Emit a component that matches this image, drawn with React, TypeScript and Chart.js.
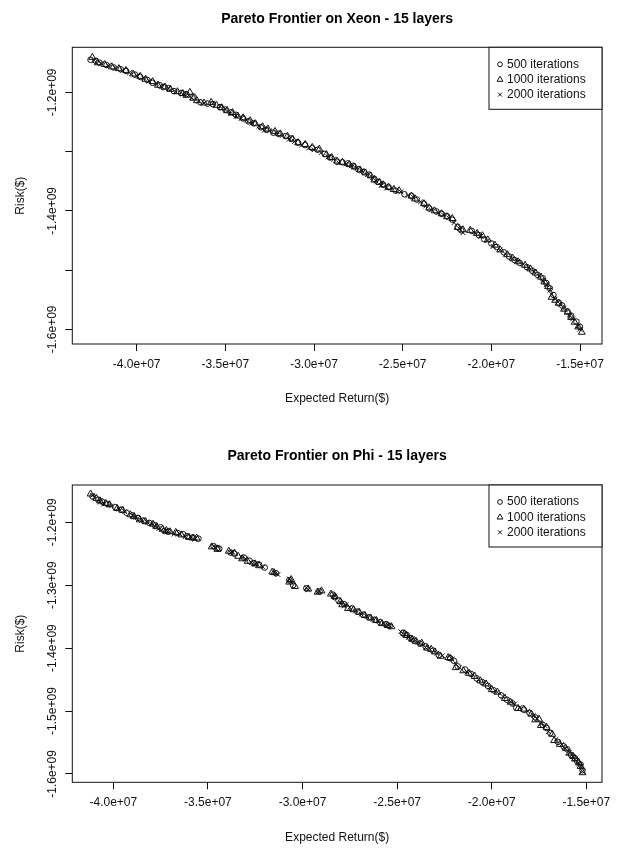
import React, { useEffect, useRef } from 'react';
import { Chart, registerables } from 'chart.js';

Chart.register(...registerables);
Chart.defaults.font.family = '"Liberation Sans", Arial, sans-serif';
Chart.defaults.font.size = 12;
Chart.defaults.color = '#111';

const seriesLabels = ['500 iterations', '1000 iterations', '2000 iterations'];
const xTickValues = [-4.0e7, -3.5e7, -3.0e7, -2.5e7, -2.0e7, -1.5e7];
const xTickLabels = ['-4.0e+07', '-3.5e+07', '-3.0e+07', '-2.5e+07', '-2.0e+07', '-1.5e+07'];
const yTickValues = [-1.2e9, -1.3e9, -1.4e9, -1.5e9, -1.6e9];
const xeonYTickLabels = ['-1.2e+09', '', '-1.4e+09', '', '-1.6e+09'];
const phiYTickLabels = ['-1.2e+09', '-1.3e+09', '-1.4e+09', '-1.5e+09', '-1.6e+09'];

const xeonXRange = [-4.363e7, -1.376e7];
const xeonYRange = [-1.6248e9, -1.124e9];
const phiXRange = [-4.217e7, -1.417e7];
const phiYRange = [-1.6133e9, -1.1407e9];

// Xeon - 500 iterations
const xeon500X = [-4.26e7, -4.21e7, -4.13e7, -4.06e7, -3.98e7, -3.91e7, -3.85e7, -3.79e7, -3.72e7, -3.64e7, -3.57e7, -3.50e7, -3.44e7, -3.37e7, -3.30e7, -3.23e7, -3.16e7, -3.09e7, -3.01e7, -2.94e7, -2.87e7, -2.81e7, -2.75e7, -2.69e7, -2.64e7, -2.58e7, -2.49e7, -2.42e7, -2.35e7, -2.28e7, -2.22e7, -2.17e7, -2.07e7, -2.00e7, -1.93e7, -1.87e7, -1.80e7, -1.74e7, -1.69e7, -1.65e7, -1.60e7, -1.55e7, -1.50e7,
  -4.23e7, -4.17e7, -4.09e7, -4.01e7, -3.94e7, -3.87e7, -3.82e7, -3.75e7, -3.68e7, -3.60e7, -3.53e7, -3.47e7, -3.40e7, -3.34e7, -3.27e7, -3.20e7, -3.13e7, -3.05e7, -2.98e7, -2.91e7, -2.84e7, -2.78e7, -2.72e7, -2.66e7, -2.61e7, -2.54e7, -2.45e7, -2.38e7, -2.31e7, -2.25e7, -2.19e7, -2.11e7, -2.04e7, -1.97e7, -1.90e7, -1.84e7, -1.77e7, -1.71e7, -1.67e7, -1.62e7, -1.57e7, -1.52e7];
const xeon500Y = [-1.145e9, -1.150e9, -1.158e9, -1.164e9, -1.174e9, -1.184e9, -1.191e9, -1.198e9, -1.203e9, -1.217e9, -1.220e9, -1.229e9, -1.238e9, -1.249e9, -1.259e9, -1.268e9, -1.274e9, -1.285e9, -1.294e9, -1.304e9, -1.317e9, -1.320e9, -1.330e9, -1.339e9, -1.351e9, -1.360e9, -1.372e9, -1.381e9, -1.396e9, -1.405e9, -1.415e9, -1.433e9, -1.441e9, -1.455e9, -1.470e9, -1.483e9, -1.495e9, -1.508e9, -1.522e9, -1.542e9, -1.560e9, -1.577e9, -1.596e9,
  -1.147e9, -1.154e9, -1.161e9, -1.170e9, -1.179e9, -1.188e9, -1.193e9, -1.201e9, -1.207e9, -1.219e9, -1.225e9, -1.234e9, -1.244e9, -1.252e9, -1.263e9, -1.270e9, -1.278e9, -1.289e9, -1.297e9, -1.310e9, -1.318e9, -1.324e9, -1.334e9, -1.346e9, -1.356e9, -1.366e9, -1.375e9, -1.388e9, -1.401e9, -1.409e9, -1.427e9, -1.434e9, -1.448e9, -1.461e9, -1.477e9, -1.488e9, -1.501e9, -1.514e9, -1.531e9, -1.555e9, -1.570e9, -1.587e9];
// Xeon - 1000 iterations
const xeon1000X = [-4.25e7, -4.18e7, -4.10e7, -4.02e7, -3.95e7, -3.88e7, -3.81e7, -3.74e7, -3.70e7, -3.66e7, -3.58e7, -3.52e7, -3.46e7, -3.40e7, -3.33e7, -3.26e7, -3.19e7, -3.12e7, -3.05e7, -2.97e7, -2.90e7, -2.84e7, -2.77e7, -2.71e7, -2.66e7, -2.61e7, -2.55e7, -2.52e7, -2.45e7, -2.38e7, -2.32e7, -2.25e7, -2.19e7, -2.12e7, -2.05e7, -1.98e7, -1.91e7, -1.85e7, -1.78e7, -1.72e7, -1.68e7, -1.66e7, -1.62e7, -1.57e7, -1.53e7, -1.49e7,
  -4.22e7, -4.14e7, -4.06e7, -3.98e7, -3.91e7, -3.84e7, -3.77e7, -3.72e7, -3.68e7, -3.62e7, -3.55e7, -3.49e7, -3.43e7, -3.36e7, -3.29e7, -3.22e7, -3.15e7, -3.09e7, -3.01e7, -2.93e7, -2.87e7, -2.80e7, -2.74e7, -2.68e7, -2.63e7, -2.58e7, -2.43e7, -2.35e7, -2.28e7, -2.22e7, -2.16e7, -2.08e7, -2.02e7, -1.95e7, -1.88e7, -1.81e7, -1.75e7, -1.70e7, -1.64e7, -1.59e7, -1.55e7, -1.51e7];
const xeon1000Y = [-1.141e9, -1.153e9, -1.160e9, -1.169e9, -1.178e9, -1.188e9, -1.195e9, -1.202e9, -1.200e9, -1.214e9, -1.217e9, -1.226e9, -1.234e9, -1.243e9, -1.253e9, -1.262e9, -1.270e9, -1.279e9, -1.288e9, -1.296e9, -1.310e9, -1.318e9, -1.326e9, -1.336e9, -1.348e9, -1.356e9, -1.364e9, -1.366e9, -1.375e9, -1.388e9, -1.400e9, -1.410e9, -1.428e9, -1.433e9, -1.442e9, -1.458e9, -1.474e9, -1.486e9, -1.498e9, -1.512e9, -1.528e9, -1.546e9, -1.556e9, -1.571e9, -1.588e9, -1.605e9,
  -1.150e9, -1.157e9, -1.163e9, -1.173e9, -1.182e9, -1.191e9, -1.199e9, -1.205e9, -1.210e9, -1.218e9, -1.222e9, -1.231e9, -1.240e9, -1.248e9, -1.258e9, -1.266e9, -1.274e9, -1.285e9, -1.293e9, -1.305e9, -1.316e9, -1.322e9, -1.331e9, -1.341e9, -1.352e9, -1.360e9, -1.380e9, -1.395e9, -1.405e9, -1.413e9, -1.432e9, -1.438e9, -1.449e9, -1.466e9, -1.480e9, -1.492e9, -1.505e9, -1.520e9, -1.551e9, -1.566e9, -1.580e9, -1.596e9];
// Xeon - 2000 iterations
const xeon2000X = [-4.24e7, -4.16e7, -4.08e7, -4.00e7, -3.93e7, -3.86e7, -3.78e7, -3.69e7, -3.62e7, -3.53e7, -3.47e7, -3.41e7, -3.35e7, -3.28e7, -3.21e7, -3.14e7, -3.07e7, -3.00e7, -2.92e7, -2.86e7, -2.79e7, -2.73e7, -2.67e7, -2.62e7, -2.56e7, -2.47e7, -2.40e7, -2.34e7, -2.27e7, -2.21e7, -2.16e7, -2.09e7, -2.02e7, -1.95e7, -1.88e7, -1.82e7, -1.76e7, -1.71e7, -1.67e7, -1.64e7, -1.59e7, -1.54e7, -1.51e7,
  -4.20e7, -4.12e7, -4.04e7, -3.96e7, -3.89e7, -3.82e7, -3.74e7, -3.65e7, -3.57e7, -3.50e7, -3.44e7, -3.38e7, -3.31e7, -3.25e7, -3.18e7, -3.11e7, -3.03e7, -2.96e7, -2.89e7, -2.82e7, -2.76e7, -2.70e7, -2.65e7, -2.59e7, -2.51e7, -2.44e7, -2.37e7, -2.30e7, -2.24e7, -2.18e7, -2.06e7, -1.99e7, -1.92e7, -1.85e7, -1.79e7, -1.73e7, -1.69e7, -1.66e7, -1.61e7, -1.56e7, -1.50e7];
const xeon2000Y = [-1.146e9, -1.155e9, -1.163e9, -1.172e9, -1.181e9, -1.190e9, -1.199e9, -1.209e9, -1.218e9, -1.224e9, -1.236e9, -1.244e9, -1.252e9, -1.264e9, -1.270e9, -1.279e9, -1.289e9, -1.297e9, -1.309e9, -1.319e9, -1.324e9, -1.333e9, -1.344e9, -1.357e9, -1.362e9, -1.374e9, -1.385e9, -1.398e9, -1.407e9, -1.420e9, -1.437e9, -1.438e9, -1.450e9, -1.466e9, -1.481e9, -1.490e9, -1.503e9, -1.518e9, -1.534e9, -1.549e9, -1.565e9, -1.582e9, -1.594e9,
  -1.151e9, -1.159e9, -1.167e9, -1.176e9, -1.185e9, -1.193e9, -1.203e9, -1.215e9, -1.219e9, -1.228e9, -1.240e9, -1.247e9, -1.257e9, -1.265e9, -1.273e9, -1.283e9, -1.294e9, -1.302e9, -1.313e9, -1.321e9, -1.328e9, -1.339e9, -1.350e9, -1.361e9, -1.368e9, -1.377e9, -1.392e9, -1.403e9, -1.412e9, -1.430e9, -1.443e9, -1.460e9, -1.473e9, -1.485e9, -1.496e9, -1.510e9, -1.525e9, -1.541e9, -1.558e9, -1.576e9, -1.600e9];

// Phi - 500 iterations
const phi500X = [-4.11e7, -4.06e7, -3.99e7, -3.93e7, -3.87e7, -3.81e7, -3.75e7, -3.73e7, -3.66e7, -3.61e7, -3.55e7, -3.47e7, -3.44e7, -3.38e7, -3.31e7, -3.26e7, -3.20e7, -3.14e7, -3.07e7, -3.05e7, -2.98e7, -2.91e7, -2.84e7, -2.81e7, -2.74e7, -2.68e7, -2.62e7, -2.56e7, -2.47e7, -2.43e7, -2.38e7, -2.31e7, -2.22e7, -2.18e7, -2.11e7, -2.05e7, -1.99e7, -1.92e7, -1.87e7, -1.80e7, -1.73e7, -1.69e7, -1.62e7, -1.58e7, -1.55e7, -1.52e7,
  -4.08e7, -4.03e7, -3.96e7, -3.90e7, -3.84e7, -3.78e7, -3.71e7, -3.63e7, -3.58e7, -3.45e7, -3.36e7, -3.28e7, -3.23e7, -2.83e7, -2.78e7, -2.71e7, -2.65e7, -2.59e7, -2.54e7, -2.45e7, -2.41e7, -2.35e7, -2.28e7, -2.20e7, -2.14e7, -2.08e7, -2.02e7, -1.95e7, -1.89e7, -1.83e7, -1.77e7, -1.71e7, -1.65e7, -1.60e7, -1.56e7, -1.53e7];
const phi500Y = [-1.159e9, -1.167e9, -1.176e9, -1.185e9, -1.193e9, -1.201e9, -1.208e9, -1.214e9, -1.217e9, -1.222e9, -1.226e9, -1.238e9, -1.242e9, -1.248e9, -1.256e9, -1.265e9, -1.272e9, -1.281e9, -1.292e9, -1.300e9, -1.305e9, -1.310e9, -1.315e9, -1.324e9, -1.337e9, -1.347e9, -1.355e9, -1.362e9, -1.376e9, -1.384e9, -1.393e9, -1.404e9, -1.416e9, -1.429e9, -1.441e9, -1.454e9, -1.467e9, -1.482e9, -1.495e9, -1.503e9, -1.522e9, -1.535e9, -1.556e9, -1.570e9, -1.579e9, -1.594e9,
  -1.164e9, -1.171e9, -1.180e9, -1.189e9, -1.197e9, -1.205e9, -1.215e9, -1.219e9, -1.224e9, -1.241e9, -1.250e9, -1.261e9, -1.267e9, -1.319e9, -1.330e9, -1.342e9, -1.351e9, -1.359e9, -1.365e9, -1.379e9, -1.388e9, -1.397e9, -1.411e9, -1.420e9, -1.434e9, -1.448e9, -1.460e9, -1.475e9, -1.488e9, -1.498e9, -1.510e9, -1.527e9, -1.549e9, -1.561e9, -1.575e9, -1.585e9];
// Phi - 1000 iterations
const phi1000X = [-4.12e7, -4.04e7, -3.98e7, -3.91e7, -3.86e7, -3.79e7, -3.74e7, -3.67e7, -3.60e7, -3.56e7, -3.48e7, -3.39e7, -3.32e7, -3.25e7, -3.16e7, -3.06e7, -3.04e7, -2.97e7, -2.90e7, -2.85e7, -2.80e7, -2.79e7, -2.73e7, -2.67e7, -2.61e7, -2.55e7, -2.46e7, -2.42e7, -2.37e7, -2.34e7, -2.30e7, -2.23e7, -2.19e7, -2.12e7, -2.06e7, -2.00e7, -1.93e7, -1.86e7, -1.79e7, -1.77e7, -1.74e7, -1.68e7, -1.67e7, -1.61e7, -1.57e7, -1.54e7, -1.52e7,
  -4.09e7, -4.07e7, -4.02e7, -3.95e7, -3.89e7, -3.83e7, -3.77e7, -3.72e7, -3.70e7, -3.64e7, -3.58e7, -3.45e7, -3.36e7, -3.34e7, -3.29e7, -3.23e7, -3.15e7, -3.07e7, -2.92e7, -2.83e7, -2.76e7, -2.70e7, -2.64e7, -2.58e7, -2.53e7, -2.45e7, -2.40e7, -2.32e7, -2.27e7, -2.22e7, -2.15e7, -2.09e7, -2.03e7, -1.97e7, -1.90e7, -1.83e7, -1.75e7, -1.71e7, -1.64e7, -1.59e7, -1.56e7, -1.53e7];
const phi1000Y = [-1.155e9, -1.170e9, -1.178e9, -1.188e9, -1.196e9, -1.203e9, -1.211e9, -1.216e9, -1.224e9, -1.225e9, -1.239e9, -1.246e9, -1.258e9, -1.266e9, -1.279e9, -1.291e9, -1.302e9, -1.306e9, -1.309e9, -1.314e9, -1.326e9, -1.331e9, -1.339e9, -1.348e9, -1.356e9, -1.364e9, -1.377e9, -1.386e9, -1.392e9, -1.400e9, -1.406e9, -1.415e9, -1.431e9, -1.440e9, -1.452e9, -1.466e9, -1.480e9, -1.496e9, -1.505e9, -1.514e9, -1.523e9, -1.537e9, -1.547e9, -1.559e9, -1.572e9, -1.582e9, -1.598e9,
  -1.162e9, -1.166e9, -1.172e9, -1.181e9, -1.191e9, -1.199e9, -1.207e9, -1.213e9, -1.215e9, -1.220e9, -1.225e9, -1.243e9, -1.249e9, -1.254e9, -1.262e9, -1.269e9, -1.280e9, -1.295e9, -1.311e9, -1.318e9, -1.337e9, -1.343e9, -1.352e9, -1.361e9, -1.366e9, -1.380e9, -1.389e9, -1.402e9, -1.413e9, -1.416e9, -1.436e9, -1.445e9, -1.457e9, -1.470e9, -1.486e9, -1.497e9, -1.513e9, -1.526e9, -1.553e9, -1.567e9, -1.576e9, -1.588e9];
// Phi - 2000 iterations
const phi2000X = [-4.10e7, -4.05e7, -3.97e7, -3.90e7, -3.85e7, -3.80e7, -3.76e7, -3.68e7, -3.62e7, -3.57e7, -3.46e7, -3.37e7, -3.30e7, -3.27e7, -3.21e7, -3.13e7, -3.06e7, -2.98e7, -2.92e7, -2.83e7, -2.78e7, -2.75e7, -2.69e7, -2.63e7, -2.57e7, -2.48e7, -2.44e7, -2.39e7, -2.35e7, -2.29e7, -2.21e7, -2.17e7, -2.10e7, -2.04e7, -1.97e7, -1.90e7, -1.85e7, -1.78e7, -1.72e7, -1.70e7, -1.63e7, -1.59e7, -1.56e7, -1.53e7,
  -4.11e7, -4.07e7, -4.01e7, -3.94e7, -3.88e7, -3.82e7, -3.78e7, -3.72e7, -3.65e7, -3.59e7, -3.47e7, -3.38e7, -3.32e7, -3.25e7, -3.15e7, -3.07e7, -2.97e7, -2.91e7, -2.80e7, -2.77e7, -2.72e7, -2.66e7, -2.60e7, -2.55e7, -2.46e7, -2.42e7, -2.37e7, -2.33e7, -2.26e7, -2.19e7, -2.13e7, -2.07e7, -2.01e7, -1.94e7, -1.88e7, -1.81e7, -1.76e7, -1.74e7, -1.66e7, -1.61e7, -1.57e7, -1.54e7, -1.52e7];
const phi2000Y = [-1.160e9, -1.171e9, -1.179e9, -1.189e9, -1.197e9, -1.202e9, -1.210e9, -1.219e9, -1.223e9, -1.227e9, -1.240e9, -1.247e9, -1.258e9, -1.264e9, -1.271e9, -1.283e9, -1.294e9, -1.304e9, -1.311e9, -1.317e9, -1.333e9, -1.335e9, -1.346e9, -1.354e9, -1.361e9, -1.374e9, -1.383e9, -1.391e9, -1.399e9, -1.408e9, -1.417e9, -1.431e9, -1.442e9, -1.456e9, -1.470e9, -1.485e9, -1.494e9, -1.507e9, -1.523e9, -1.533e9, -1.553e9, -1.566e9, -1.577e9, -1.588e9,
  -1.157e9, -1.168e9, -1.174e9, -1.183e9, -1.192e9, -1.200e9, -1.206e9, -1.213e9, -1.218e9, -1.224e9, -1.238e9, -1.248e9, -1.256e9, -1.266e9, -1.280e9, -1.290e9, -1.307e9, -1.309e9, -1.327e9, -1.331e9, -1.341e9, -1.350e9, -1.357e9, -1.363e9, -1.378e9, -1.385e9, -1.394e9, -1.400e9, -1.412e9, -1.425e9, -1.438e9, -1.450e9, -1.463e9, -1.477e9, -1.489e9, -1.500e9, -1.512e9, -1.520e9, -1.545e9, -1.560e9, -1.572e9, -1.584e9, -1.596e9];

const pointStyles = ['circle', 'triangle', 'crossRot'];
const pointRadii = [2.8, 4, 3.3];
const INK = '#111';

function toPoints(xs: number[], ys: number[]) {
  return xs.map((x, i) => ({ x, y: ys[i] }));
}

function drawMarker(ctx: CanvasRenderingContext2D, style: string, x: number, y: number, r: number) {
  ctx.beginPath();
  if (style === 'circle') {
    ctx.arc(x, y, r, 0, Math.PI * 2);
  } else if (style === 'triangle') {
    for (let k = 0; k < 3; k++) {
      const a = (k * 2 * Math.PI) / 3;
      const px = x + Math.sin(a) * r;
      const py = y - Math.cos(a) * r;
      if (k === 0) ctx.moveTo(px, py); else ctx.lineTo(px, py);
    }
    ctx.closePath();
  } else {
    const d = r * Math.SQRT1_2;
    ctx.moveTo(x - d, y - d); ctx.lineTo(x + d, y + d);
    ctx.moveTo(x - d, y + d); ctx.lineTo(x + d, y - d);
  }
  ctx.stroke();
}

const frameAndLegend = {
  id: 'frameAndLegend',
  afterDraw(chart: any) {
    const { ctx, chartArea } = chart;
    ctx.save();
    ctx.strokeStyle = INK;
    ctx.lineWidth = 1;
    ctx.strokeRect(chartArea.left, chartArea.top, chartArea.right - chartArea.left, chartArea.bottom - chartArea.top);
    const w = 113;
    const h = 62;
    const lx = chartArea.right - w;
    const ly = chartArea.top;
    ctx.fillStyle = '#fff';
    ctx.fillRect(lx, ly, w, h);
    ctx.strokeRect(lx, ly, w, h);
    const rows = [17, 32.3, 47.3];
    ctx.font = '12px "Liberation Sans", Arial, sans-serif';
    ctx.textBaseline = 'middle';
    ctx.textAlign = 'left';
    seriesLabels.forEach((label, i) => {
      const yy = ly + rows[i];
      ctx.strokeStyle = INK;
      ctx.lineWidth = 1;
      drawMarker(ctx, pointStyles[i], lx + 11, yy, pointRadii[i] * 0.85);
      ctx.fillStyle = '#111';
      ctx.fillText(label, lx + 18, yy);
    });
    ctx.restore();
  },
};

type Spec = {
  title: string;
  titlePad: { top: number; bottom: number };
  xRange: number[];
  yRange: number[];
  yLabels: string[];
  xAxisHeight: number;
  xTitlePad: number;
  series: { x: number[]; y: number[] }[];
};

function makeChart(canvas: HTMLCanvasElement, spec: Spec) {
  return new Chart(canvas, {
    type: 'scatter',
    data: {
      datasets: spec.series.map((s, i) => ({
        label: seriesLabels[i],
        data: toPoints(s.x, s.y),
        pointStyle: pointStyles[i] as any,
        pointRadius: pointRadii[i],
        pointBorderWidth: 1,
        borderColor: INK,
        backgroundColor: 'rgba(0,0,0,0)',
        order: 3 - i,
      })),
    },
    options: {
      responsive: false,
      animation: false,
      events: [],
      layout: { padding: { left: 0, right: 16, top: 0, bottom: 0 } },
      plugins: {
        legend: { display: false },
        tooltip: { enabled: false },
        title: {
          display: true,
          text: spec.title,
          fullSize: false,
          color: '#000',
          font: { size: 14, weight: 'bold' },
          padding: spec.titlePad,
        },
      },
      scales: {
        x: {
          type: 'linear',
          min: spec.xRange[0],
          max: spec.xRange[1],
          afterBuildTicks: (s: any) => {
            s.ticks = xTickValues.map((v) => ({ value: v }));
          },
          afterFit: (s: any) => {
            s.height = spec.xAxisHeight;
          },
          ticks: {
            callback: (_v: any, i: number) => xTickLabels[i],
            padding: 6,
            maxRotation: 0,
            minRotation: 0,
            color: '#111',
          },
          grid: { drawOnChartArea: false, drawTicks: true, tickLength: 7, color: INK },
          border: { display: false },
          title: {
            display: true,
            text: 'Expected Return($)',
            color: '#111',
            font: { size: 12 },
            padding: { top: 0, bottom: spec.xTitlePad },
          },
        },
        y: {
          type: 'linear',
          min: spec.yRange[0],
          max: spec.yRange[1],
          afterBuildTicks: (s: any) => {
            s.ticks = yTickValues.map((v) => ({ value: v }));
          },
          afterFit: (s: any) => {
            s.width = 72.3;
          },
          ticks: {
            callback: (_v: any, i: number) => spec.yLabels[i],
            minRotation: 90,
            maxRotation: 90,
            crossAlign: 'center',
            padding: -11.4,
            color: '#111',
          },
          grid: { drawOnChartArea: false, drawTicks: true, tickLength: 7, color: INK },
          border: { display: false },
          title: {
            display: true,
            text: 'Risk($)',
            color: '#111',
            font: { size: 12 },
            padding: { top: 13.8, bottom: 0 },
          },
        },
      },
    } as any,
    plugins: [frameAndLegend],
  });
}

function ParetoChart({ spec }: { spec: Spec }) {
  const ref = useRef<HTMLCanvasElement | null>(null);
  useEffect(() => {
    if (!ref.current) return;
    const chart = makeChart(ref.current, spec);
    return () => chart.destroy();
  }, [spec]);
  return <canvas ref={ref} width={618} height={424} style={{ display: 'block' }} />;
}

const xeonSpec: Spec = {
  title: 'Pareto Frontier on Xeon - 15 layers',
  titlePad: { top: 10.6, bottom: 19.9 },
  xRange: xeonXRange,
  yRange: xeonYRange,
  yLabels: xeonYTickLabels,
  xAxisHeight: 80,
  xTitlePad: 17.8,
  series: [
    { x: xeon500X, y: xeon500Y },
    { x: xeon1000X, y: xeon1000Y },
    { x: xeon2000X, y: xeon2000Y },
  ],
};

const phiSpec: Spec = {
  title: 'Pareto Frontier on Phi - 15 layers',
  titlePad: { top: 23.6, bottom: 20.6 },
  xRange: phiXRange,
  yRange: phiYRange,
  yLabels: phiYTickLabels,
  xAxisHeight: 65.7,
  xTitlePad: 3.5,
  series: [
    { x: phi500X, y: phi500Y },
    { x: phi1000X, y: phi1000Y },
    { x: phi2000X, y: phi2000Y },
  ],
};

export default function App() {
  return (
    <div style={{ position: 'absolute', left: 0, top: 0, width: 618, height: 848, background: '#fff' }}>
      <ParetoChart spec={xeonSpec} />
      <ParetoChart spec={phiSpec} />
    </div>
  );
}
